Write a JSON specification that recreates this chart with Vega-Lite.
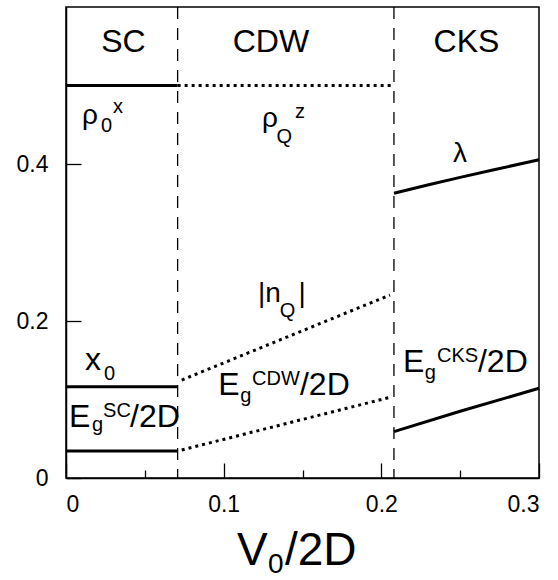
{
  "$schema": "https://vega.github.io/schema/vega-lite/v6.json",
  "width": 473,
  "height": 471,
  "autosize": "none",
  "padding": {"left": 66, "top": 7, "right": 19, "bottom": 102},
  "config": {
    "view": {"stroke": "black", "strokeWidth": 1.5},
    "font": "Liberation Sans",
    "axis": {"grid": false, "domainColor": "black", "domainWidth": 1.5, "tickColor": "black", "tickWidth": 1.3, "labelColor": "black", "labelFont": "Liberation Sans", "labelFontSize": 23, "title": null}
  },
  "datasets": {
    "solid": [
      {"s": "rho0x", "x": 0, "y": 0.5}, {"s": "rho0x", "x": 0.0708, "y": 0.5},
      {"s": "x0", "x": 0, "y": 0.1163}, {"s": "x0", "x": 0.0708, "y": 0.1163},
      {"s": "EgSC", "x": 0, "y": 0.0344}, {"s": "EgSC", "x": 0.0708, "y": 0.0344},
      {"s": "lambda", "x": 0.208, "y": 0.3627}, {"s": "lambda", "x": 0.23, "y": 0.3735}, {"s": "lambda", "x": 0.25, "y": 0.383}, {"s": "lambda", "x": 0.27, "y": 0.392}, {"s": "lambda", "x": 0.3, "y": 0.4055},
      {"s": "EgCKS", "x": 0.208, "y": 0.059}, {"s": "EgCKS", "x": 0.25, "y": 0.085}, {"s": "EgCKS", "x": 0.3, "y": 0.1143}
    ],
    "dotted": [
      {"s": "rhoQz", "x": 0.0708, "y": 0.5}, {"s": "rhoQz", "x": 0.208, "y": 0.5},
      {"s": "nQ", "x": 0.0734, "y": 0.1248}, {"s": "nQ", "x": 0.2055, "y": 0.2331},
      {"s": "EgCDW", "x": 0.0734, "y": 0.0357}, {"s": "EgCDW", "x": 0.2055, "y": 0.1028}
    ],
    "bounds": [{"x": 0.0708}, {"x": 0.208}],
    "phases": [
      {"t": "SC", "x": 0.0364, "y": 0.5427},
      {"t": "CDW", "x": 0.130, "y": 0.5427},
      {"t": "CKS", "x": 0.254, "y": 0.5427}
    ],
    "base": [
      {"t": "x", "x": 0.012, "y": 0.1376},
      {"t": "E", "x": 0.0019, "y": 0.065}, {"t": "/2D", "x": 0.0406, "y": 0.065},
      {"t": "E", "x": 0.0965, "y": 0.1057}, {"t": "/2D", "x": 0.1484, "y": 0.1057},
      {"t": "E", "x": 0.2137, "y": 0.135}, {"t": "/2D", "x": 0.2613, "y": 0.135}
    ],
    "greek": [
      {"t": "ρ", "x": 0.0102, "y": 0.451},
      {"t": "ρ", "x": 0.1243, "y": 0.447},
      {"t": "λ", "x": 0.2454, "y": 0.4025},
      {"t": "|n", "x": 0.1218, "y": 0.2242},
      {"t": "|", "x": 0.1475, "y": 0.2242}
    ],
    "small": [
      {"t": "0", "x": 0.0222, "y": 0.4408}, {"t": "x", "x": 0.0298, "y": 0.465},
      {"t": "Q", "x": 0.1335, "y": 0.4268}, {"t": "z", "x": 0.1452, "y": 0.4586},
      {"t": "Q", "x": 0.1355, "y": 0.205},
      {"t": "0", "x": 0.0241, "y": 0.1248},
      {"t": "g", "x": 0.0165, "y": 0.0599}, {"t": "SC", "x": 0.0235, "y": 0.0777},
      {"t": "g", "x": 0.1105, "y": 0.0968}, {"t": "CDW", "x": 0.1180, "y": 0.1185},
      {"t": "g", "x": 0.2276, "y": 0.1261}, {"t": "CKS", "x": 0.2353, "y": 0.1478}
    ],
    "titleBig": [{"t": "V", "x": 0.1084, "y": -0.1108}, {"t": "/2D", "x": 0.1389, "y": -0.1108}],
    "titleSub": [{"t": "0", "x": 0.1281, "y": -0.121}]
  },
  "layer": [
    {
      "data": {"name": "bounds"},
      "mark": {"type": "rule", "color": "black", "strokeWidth": 1.3, "strokeDash": [12, 9]},
      "encoding": {
        "x": {"field": "x", "type": "quantitative", "scale": {"domain": [0, 0.3], "nice": false},
              "axis": {"orient": "bottom", "values": [0, 0.1, 0.2, 0.3], "tickSize": -15, "labelPadding": 30,
                       "labelExpr": "datum.value === 0 ? '0' : format(datum.value, '.1f')"}}
      }
    },
    {
      "data": {"name": "solid"},
      "mark": {"type": "line", "color": "black", "strokeWidth": 3},
      "encoding": {
        "x": {"field": "x", "type": "quantitative",
              "axis": {"orient": "bottom", "values": [0.05, 0.15, 0.25], "tickSize": -8, "labels": false, "domain": false}},
        "y": {"field": "y", "type": "quantitative", "scale": {"domain": [0, 0.6], "nice": false},
              "axis": {"values": [0, 0.2, 0.4], "tickSize": -15, "labelPadding": 33,
                       "labelExpr": "datum.value === 0 ? '0' : format(datum.value, '.1f')"}},
        "detail": {"field": "s"}
      }
    },
    {
      "data": {"name": "dotted"},
      "mark": {"type": "line", "color": "black", "strokeWidth": 3, "strokeDash": [3, 4]},
      "encoding": {
        "x": {"field": "x", "type": "quantitative", "axis": null},
        "y": {"field": "y", "type": "quantitative"},
        "detail": {"field": "s"}
      }
    },
    {
      "data": {"name": "phases"},
      "mark": {"type": "text", "fontSize": 32, "align": "center", "baseline": "alphabetic", "color": "black"},
      "encoding": {"x": {"field": "x", "type": "quantitative", "axis": null}, "y": {"field": "y", "type": "quantitative"}, "text": {"field": "t"}}
    },
    {
      "data": {"name": "base"},
      "mark": {"type": "text", "fontSize": 32, "align": "left", "baseline": "alphabetic", "color": "black"},
      "encoding": {"x": {"field": "x", "type": "quantitative", "axis": null}, "y": {"field": "y", "type": "quantitative"}, "text": {"field": "t"}}
    },
    {
      "data": {"name": "greek"},
      "mark": {"type": "text", "fontSize": 28, "align": "left", "baseline": "alphabetic", "color": "black"},
      "encoding": {"x": {"field": "x", "type": "quantitative", "axis": null}, "y": {"field": "y", "type": "quantitative"}, "text": {"field": "t"}}
    },
    {
      "data": {"name": "small"},
      "mark": {"type": "text", "fontSize": 20, "align": "left", "baseline": "alphabetic", "color": "black"},
      "encoding": {"x": {"field": "x", "type": "quantitative", "axis": null}, "y": {"field": "y", "type": "quantitative"}, "text": {"field": "t"}}
    },
    {
      "data": {"name": "titleBig"},
      "mark": {"type": "text", "fontSize": 46, "align": "left", "baseline": "alphabetic", "color": "black"},
      "encoding": {"x": {"field": "x", "type": "quantitative", "axis": null}, "y": {"field": "y", "type": "quantitative"}, "text": {"field": "t"}}
    },
    {
      "data": {"name": "titleSub"},
      "mark": {"type": "text", "fontSize": 28, "align": "left", "baseline": "alphabetic", "color": "black"},
      "encoding": {"x": {"field": "x", "type": "quantitative", "axis": null}, "y": {"field": "y", "type": "quantitative"}, "text": {"field": "t"}}
    }
  ],
  "resolve": {"axis": {"x": "independent"}}
}
